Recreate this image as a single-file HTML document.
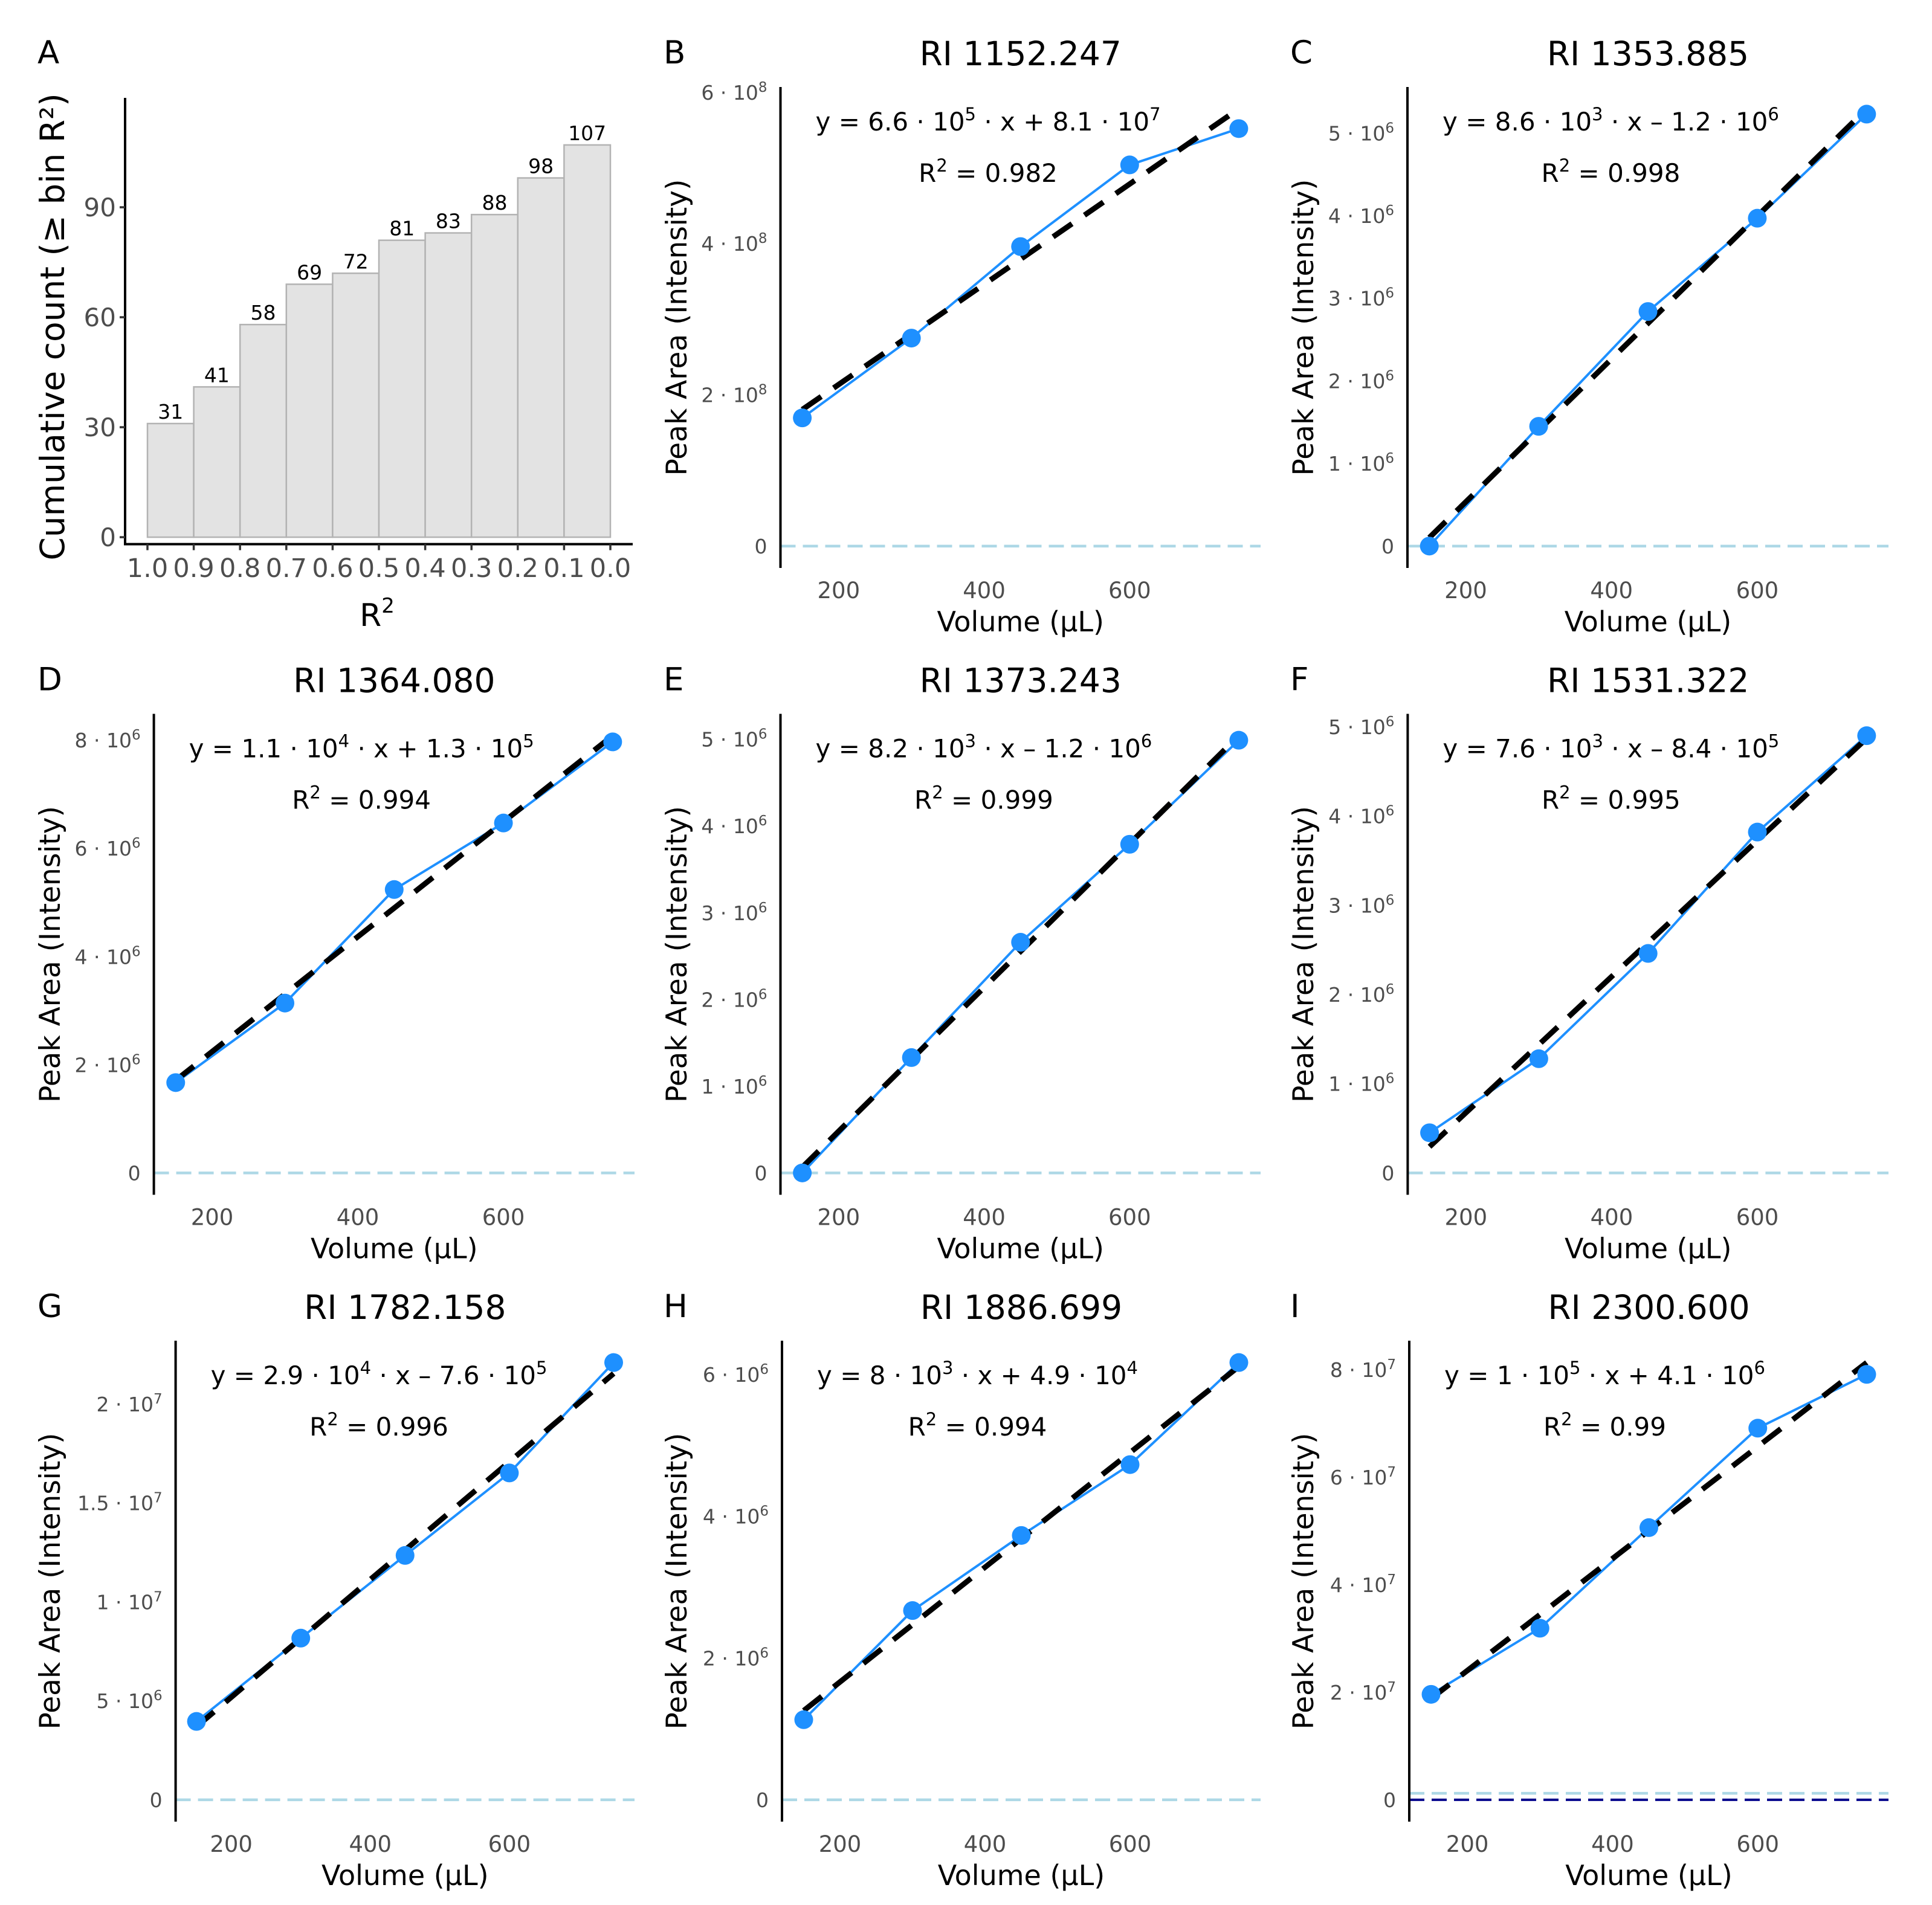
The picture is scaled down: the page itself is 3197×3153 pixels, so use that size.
<!DOCTYPE html>
<html>
<head>
<meta charset="utf-8">
<style>
  html, body { margin: 0; padding: 0; background: #ffffff; }
  svg { display: block; font-family: "DejaVu Sans", "Liberation Sans", sans-serif; }
</style>
</head>
<body>
<svg id="fig" xmlns="http://www.w3.org/2000/svg" width="3197" height="3153" viewBox="0 0 3197 3153">
  <rect x="0" y="0" width="3197" height="3153" fill="#ffffff"/>
</svg>
<script>
// ---------- Panel A data ----------
const histBins = ["1.0","0.9","0.8","0.7","0.6","0.5","0.4","0.3","0.2","0.1","0.0"];
const histCounts = [31, 41, 58, 69, 72, 81, 83, 88, 98, 107];
const histYTicks = [0, 30, 60, 90];

// ---------- Calibration panels data ----------
const volumes = [150, 300, 450, 600, 750];
const xTicks = [200, 400, 600];
const titles = ["RI 1152.247","RI 1353.885","RI 1364.080","RI 1373.243","RI 1531.322","RI 1782.158","RI 1886.699","RI 2300.600"];
const letters = ["B","C","D","E","F","G","H","I"];
const areaB = [1.695e8, 2.75e8, 3.96e8, 5.04e8, 5.52e8];
const areaC = [0.0, 1.45e6, 2.84e6, 3.97e6, 5.23e6];
const areaD = [1.67e6, 3.14e6, 5.24e6, 6.47e6, 7.97e6];
const areaE = [0.0, 1.33e6, 2.66e6, 3.79e6, 4.99e6];
const areaF = [0.45e6, 1.28e6, 2.46e6, 3.82e6, 4.90e6];
const areaG = [3.96e6, 8.17e6, 12.35e6, 16.52e6, 22.1e6];
const areaH = [1.13e6, 2.67e6, 3.73e6, 4.73e6, 6.17e6];
const areaI = [1.96e7, 3.19e7, 5.06e7, 6.91e7, 7.91e7];
const yTicksB = [0, 2e8, 4e8, 6e8];
const yTicksC = [0, 1e6, 2e6, 3e6, 4e6, 5e6];
const yTicksD = [0, 2e6, 4e6, 6e6, 8e6];
const yTicksE = [0, 1e6, 2e6, 3e6, 4e6, 5e6];
const yTicksF = [0, 1e6, 2e6, 3e6, 4e6, 5e6];
const yTicksG = [0, 5e6, 1e7, 1.5e7, 2e7];
const yTicksH = [0, 2e6, 4e6, 6e6];
const yTicksI = [0, 2e7, 4e7, 6e7, 8e7];
const eqLabels = ["y = 6.6 · 10^5 · x + 8.1 · 10^7","y = 8.6 · 10^3 · x – 1.2 · 10^6","y = 1.1 · 10^4 · x + 1.3 · 10^5","y = 8.2 · 10^3 · x – 1.2 · 10^6","y = 7.6 · 10^3 · x – 8.4 · 10^5","y = 2.9 · 10^4 · x – 7.6 · 10^5","y = 8 · 10^3 · x + 4.9 · 10^4","y = 1 · 10^5 · x + 4.1 · 10^6"];
const r2Labels = ["0.982","0.998","0.994","0.999","0.995","0.996","0.994","0.99"];
const thresholdI = [1.2e6];

const NS = "http://www.w3.org/2000/svg";
const svg = document.getElementById("fig");
function mk(tag, attrs, parent) {
  const e = document.createElementNS(NS, tag);
  for (const k in attrs) e.setAttribute(k, attrs[k]);
  (parent || svg).appendChild(e);
  return e;
}

// ---------- Panel A ----------
(function () {
  const g = mk("g", {});
  
  
  const L = 207, R = 1047, T = 162, B = 900.6;
  const barL = 244, barR = 1010;
  const yMax = Math.max(...histCounts) * 1.12;
  const yMin = -0.0158 * yMax;
  const ys = v => B - (v - yMin) / (yMax - yMin) * (B - T);
  const bw = (barR - barL) / histCounts.length;
  const xs = i => barL + i * bw;

  const lt = mk("text", {x: 62, y: 105, "font-size": 53, fill: "#000"}, g);
  lt.textContent = "A";
  
  

  histCounts.forEach((c, i) => {
    const r = mk("rect", {x: xs(i), y: ys(c), width: bw, height: ys(0) - ys(c), fill: "#e3e3e3", stroke: "#b3b3b3", "stroke-width": 2.5}, g);
    
    
    const t = mk("text", {x: xs(i) + bw / 2, y: ys(c) - 8, "font-size": 33, "text-anchor": "middle", fill: "#000"}, g);
    t.textContent = String(c);
    
    
  });

  const ya = mk("line", {x1: L, y1: T, x2: L, y2: B, stroke: "#000", "stroke-width": 4}, g);
  
  
  const xa = mk("line", {x1: L - 2, y1: B, x2: R, y2: B, stroke: "#000", "stroke-width": 4}, g);
  
  

  histYTicks.forEach(v => {
    const tk = mk("line", {x1: L - 9, y1: ys(v), x2: L, y2: ys(v), stroke: "#333", "stroke-width": 3.5}, g);
    
    
    const t = mk("text", {x: L - 15, y: ys(v) + 15, "font-size": 42, "text-anchor": "end", fill: "#4d4d4d"}, g);
    t.textContent = String(v);
    
    
  });
  histBins.forEach((b, i) => {
    const tk = mk("line", {x1: xs(i), y1: B, x2: xs(i), y2: B + 10, stroke: "#333", "stroke-width": 3.5}, g);
    
    
    const t = mk("text", {x: xs(i), y: 955, "font-size": 43, "text-anchor": "middle", fill: "#4d4d4d"}, g);
    t.textContent = b;
    
    
  });
  const xt = mk("text", {x: 624, y: 1036, "font-size": 52, "text-anchor": "middle", fill: "#000"}, g);
  xt.innerHTML = 'R<tspan font-size="34" dy="-22">2</tspan>';
  
  
  const yt = mk("text", {x: 0, y: 0, "font-size": 55, "text-anchor": "middle", fill: "#000", transform: "translate(106,541) rotate(-90)"}, g);
  yt.textContent = "Cumulative count (≥ bin R²)";
  
  
})();

// ---------- Calibration panels ----------
const panelAreas = [areaB, areaC, areaD, areaE, areaF, areaG, areaH, areaI];
const panelTicks = [yTicksB, yTicksC, yTicksD, yTicksE, yTicksF, yTicksG, yTicksH, yTicksI];
const panelPos = [[1,0],[2,0],[0,1],[1,1],[2,1],[0,2],[1,2],[2,2]];
const plotLefts = [1291.5, 2329, 254.6, 1291.5, 2329.4, 290.6, 1294, 2332];
const plotRights = [1050, 2086, 3125];
const titleXs = [83, 1120, 2157];
const letterXs = [62, 1098, 2135];

function fmtTick(v) {
  if (v === 0) return {m: "0", e: null};
  const e = Math.floor(Math.log10(v) + 1e-9);
  let m = v / Math.pow(10, e);
  m = Math.round(m * 10) / 10;
  return {m: String(m), e: String(e)};
}
function addRich(textEl, str, supSize) {
  const parts = str.split(/(\^\d+)/);
  parts.forEach(p => {
    if (!p) return;
    const ts = document.createElementNS(NS, "tspan");
    if (p[0] === "^") {
      ts.setAttribute("font-size", supSize);
      ts.setAttribute("baseline-shift", "super");
      ts.textContent = p.slice(1);
    } else {
      ts.textContent = p;
    }
    textEl.appendChild(ts);
  });
}

panelAreas.forEach((ys_, k) => {
  const [c, r] = panelPos[k];
  const oy = 1037.5 * r;
  const L = plotLefts[k], R = plotRights[c], T = 144 + oy, Bt = 940 + oy;
  const g = mk("g", {});
  
  

  const n = volumes.length;
  const mx = volumes.reduce((a, b) => a + b, 0) / n;
  const my = ys_.reduce((a, b) => a + b, 0) / n;
  let sxy = 0, sxx = 0;
  for (let i = 0; i < n; i++) { sxy += (volumes[i] - mx) * (ys_[i] - my); sxx += (volumes[i] - mx) ** 2; }
  const slope = sxy / sxx, icpt = my - slope * mx;
  const fitX = [volumes[0], volumes[n - 1]];
  const fitY = fitX.map(x => icpt + slope * x);

  const extra = (k === 7) ? thresholdI : [];
  const all = ys_.concat(fitY, [0], extra);
  const dmin = Math.min(...all), dmax = Math.max(...all);
  const pad = (dmax - dmin) * 0.05;
  const yLo = dmin - pad, yHi = dmax + pad;
  const xLo = 120, xHi = 780;
  const sx = x => L + (x - xLo) / (xHi - xLo) * (R - L);
  const sy = v => Bt - (v - yLo) / (yHi - yLo) * (Bt - T);

  const lt = mk("text", {x: letterXs[c], y: 105 + oy, "font-size": 53, fill: "#000"}, g);
  lt.textContent = letters[k];
  
  
  const tt = mk("text", {x: (L + R) / 2, y: 108 + oy, "font-size": 55, "text-anchor": "middle", fill: "#000"}, g);
  tt.textContent = titles[k];
  
  

  const z = mk("line", {x1: L, y1: sy(extra.length ? extra[0] : 0), x2: R, y2: sy(extra.length ? extra[0] : 0), stroke: "#add8e6", "stroke-width": 4.5, "stroke-dasharray": "25 12"}, g);
  
  
  if (extra.length) {
    const nv = mk("line", {x1: L, y1: sy(0), x2: R, y2: sy(0), stroke: "#00008b", "stroke-width": 4, "stroke-dasharray": "25 12"}, g);
    
    
  }

  const ya = mk("line", {x1: L, y1: T, x2: L, y2: Bt, stroke: "#000", "stroke-width": 4}, g);
  
  

  panelTicks[k].forEach(v => {
    const f = fmtTick(v);
    const t = mk("text", {x: L - 22, y: sy(v) + 12, "font-size": 33, "text-anchor": "end", fill: "#4d4d4d"}, g);
    if (f.e === null) t.textContent = "0";
    else addRich(t, f.m + " · 10^" + f.e, 23);
    
    
  });
  xTicks.forEach(v => {
    const t = mk("text", {x: sx(v), y: 990 + oy, "font-size": 37, "text-anchor": "middle", fill: "#4d4d4d"}, g);
    t.textContent = String(v);
    
    
  });
  const xt = mk("text", {x: (L + R) / 2, y: 1045 + oy, "font-size": 46, "text-anchor": "middle", fill: "#000"}, g);
  xt.textContent = "Volume (µL)";
  
  
  const yt = mk("text", {x: 0, y: 0, "font-size": 47, "text-anchor": "middle", fill: "#000", transform: "translate(" + (titleXs[c] + 16) + "," + (542 + oy) + ") rotate(-90)"}, g);
  yt.textContent = "Peak Area (Intensity)";
  
  

  const pts = volumes.map((x, i) => sx(x) + "," + sy(ys_[i])).join(" ");
  const pl = mk("polyline", {points: pts, fill: "none", stroke: "#1e90ff", "stroke-width": 4}, g);
  
  
  const fl = mk("line", {x1: sx(fitX[0]), y1: sy(fitY[0]), x2: sx(fitX[1]), y2: sy(fitY[1]), stroke: "#000", "stroke-width": 9, "stroke-dasharray": "38 25"}, g);
  
  
  volumes.forEach((x, i) => {
    const p = mk("circle", {cx: sx(x), cy: sy(ys_[i]), r: 15.5, fill: "#1e90ff"}, g);
    
    
  });

  const eq = mk("text", {x: L + 58, y: 216 + oy, "font-size": 42, fill: "#000"}, g);
  addRich(eq, eqLabels[k], 29);
  
  
  let w = 560;
  try { w = eq.getComputedTextLength() || 560; } catch (e) {}
  const r2 = mk("text", {x: L + 58 + w / 2, y: 301 + oy, "font-size": 42, "text-anchor": "middle", fill: "#000"}, g);
  addRich(r2, "R^2 = " + r2Labels[k], 29);
  
  
});
</script>
</body>
</html>
